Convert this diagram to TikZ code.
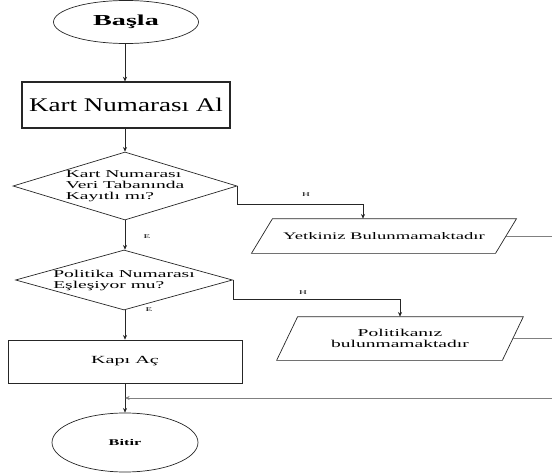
\documentclass[tikz,border=0pt]{standalone}
\usepackage{fontspec}
\setmainfont{Liberation Serif}[FakeStretch=1.85]
\newfontfamily\titlefont{Liberation Serif}[FakeStretch=1.4]
\usetikzlibrary{shapes.geometric,arrows.meta}

\tikzset{
  terminal/.style={draw,ellipse,inner sep=0pt},
  islem/.style={draw,rectangle,inner sep=0pt},
  karar/.style={draw,diamond,inner sep=0pt,align=left},
  cikti/.style={rectangle,inner sep=0pt,align=center},
  akis/.style={-{Stealth[length=4pt,width=3.5pt]}},
  etiket/.style={font=\fontsize{5}{6}\selectfont,inner sep=0pt},
}

\begin{document}
\begin{tikzpicture}[x=0.03cm,y=-0.03cm,line width=0.6pt,draw=black!85]
\useasboundingbox (0,0) rectangle (552,475);

\node[terminal,minimum width=4.35cm,minimum height=1.29cm,
  font=\fontsize{13}{15}\selectfont\bfseries] (basla) at (126,22) {Başla};
\node[islem,minimum width=6.24cm,minimum height=1.38cm,line width=0.9pt,
  font=\titlefont\fontsize{16.5}{19}\selectfont] (kartal) at (126,105) {Kart Numarası Al};
\node[karar,aspect=3.3,minimum width=6.72cm,minimum height=2.04cm,
  font=\fontsize{9}{9.4}\selectfont] (kayit) at (125,186)
  {Kart Numarası\\Veri Tabanında\\Kayıtlı mı?};
\node[karar,aspect=3.6,minimum width=6.51cm,minimum height=1.8cm,
  font=\fontsize{9}{9.4}\selectfont] (eslesme) at (124,280)
  {Politika Numarası\\Eşleşiyor mu?};
\node[islem,minimum width=7.02cm,minimum height=1.29cm,
  font=\fontsize{9.3}{11}\selectfont] (kapi) at (125,361.5) {Kapı Aç};
\node[terminal,minimum width=4.38cm,minimum height=1.77cm,
  font=\fontsize{7.5}{8}\selectfont\bfseries] (bitir) at (125,442.5) {Bitir};

\node[cikti,minimum width=7.3cm,minimum height=1.02cm,
  font=\fontsize{8.6}{10}\selectfont] (yetki) at (384,236) {Yetkiniz Bulunmamaktadır};
\node[cikti,minimum width=6.75cm,minimum height=1.29cm,
  font=\fontsize{9}{8.8}\selectfont] (politika) at (400,338.5)
  {Politikanız\\bulunmamaktadır};

% paralelkenar kutular
\draw ([xshift=-0.315cm]yetki.south west) -- ([xshift=0.315cm]yetki.north west)
  -- ([xshift=0.315cm]yetki.north east) -- ([xshift=-0.315cm]yetki.south east) -- cycle;
\draw ([xshift=-0.315cm]politika.south west) -- ([xshift=0.315cm]politika.north west)
  -- ([xshift=0.315cm]politika.north east) -- ([xshift=-0.315cm]politika.south east) -- cycle;

\coordinate (donus) at (552,398);

\draw[akis] (basla.south -| kayit) -- (kartal.north -| kayit);
\draw[akis] (kartal.south -| kayit) -- (kayit);
\draw[akis] (kayit) -- (kayit |- eslesme.north);
\draw[akis] (kayit |- eslesme.south) -- (kapi);
\draw[akis] (kapi) -- (bitir);

\draw[akis] (kayit.east) -- ++(0,18) -| ([xshift=-0.63cm]yetki.north);
\draw[akis] (eslesme.east) -- ++(0,19) -| (politika.north);

\draw[gray] (yetki.east) -- (yetki.east -| donus);
\draw[gray] (politika.east) -- (politika.east -| donus);
\draw[akis,gray] (donus) -- (donus -| kapi.south);

\node[etiket] (h1) at (306,195) {H};
\node[etiket] (h2) at (303,293) {H};
\node[etiket] (e1) at (147,237) {E};
\node[etiket] (e2) at (149,310) {E};
\end{tikzpicture}
\end{document}
